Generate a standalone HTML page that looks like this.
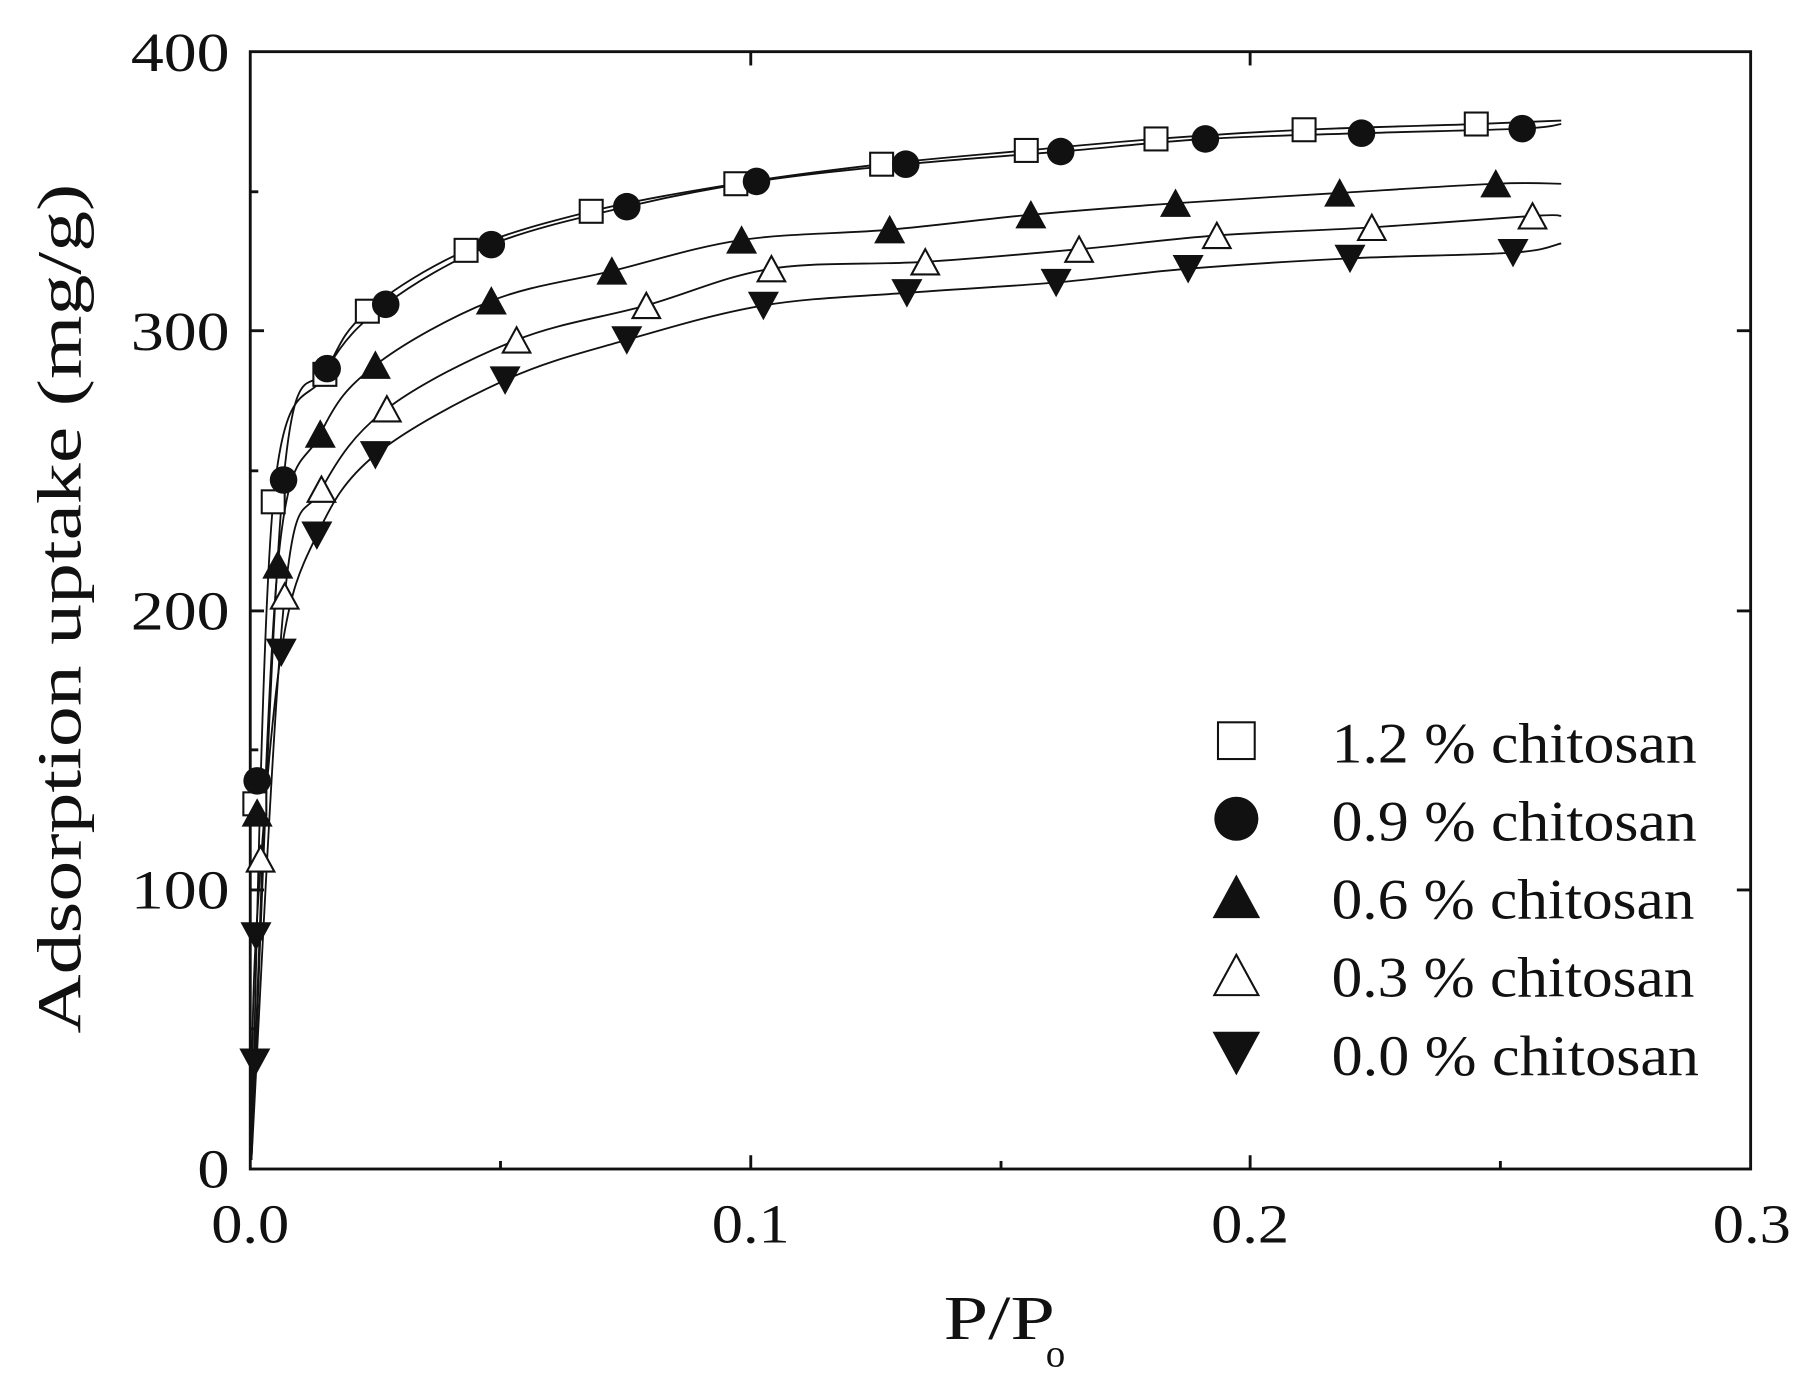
<!DOCTYPE html>
<html><head><meta charset="utf-8"><style>
html,body{margin:0;padding:0;background:#fff;overflow:hidden}
svg{display:block}
text{font-family:"Liberation Serif",serif;fill:#111}
</style></head><body>
<svg id="s" width="1800" height="1378" viewBox="0 0 1568 1200" preserveAspectRatio="none" xmlns="http://www.w3.org/2000/svg">
<rect x="218" y="45" width="1307" height="973" fill="none" stroke="#111" stroke-width="2.5"/>
<g stroke="#111" stroke-width="2.5">
<line x1="218" y1="775" x2="230" y2="775"/><line x1="218" y1="532" x2="230" y2="532"/><line x1="218" y1="288" x2="230" y2="288"/>
<line x1="218" y1="896" x2="225" y2="896"/><line x1="218" y1="653" x2="225" y2="653"/><line x1="218" y1="410" x2="225" y2="410"/><line x1="218" y1="167" x2="225" y2="167"/>
<line x1="1525" y1="775" x2="1513" y2="775"/><line x1="1525" y1="532" x2="1513" y2="532"/><line x1="1525" y1="288" x2="1513" y2="288"/>
<line x1="654" y1="1018" x2="654" y2="1006"/><line x1="1089" y1="1018" x2="1089" y2="1006"/>
<line x1="436" y1="1018" x2="436" y2="1011"/><line x1="872" y1="1018" x2="872" y2="1011"/><line x1="1307" y1="1018" x2="1307" y2="1011"/>
<line x1="654" y1="45" x2="654" y2="57"/><line x1="1089" y1="45" x2="1089" y2="57"/>
</g>
<g font-size="48" text-anchor="end">
<text x="200" y="1034" textLength="28" lengthAdjust="spacingAndGlyphs">0</text>
<text x="200" y="791" textLength="86" lengthAdjust="spacingAndGlyphs">100</text>
<text x="200" y="548" textLength="86" lengthAdjust="spacingAndGlyphs">200</text>
<text x="200" y="305" textLength="86" lengthAdjust="spacingAndGlyphs">300</text>
<text x="200" y="62" textLength="86" lengthAdjust="spacingAndGlyphs">400</text>
</g>
<g font-size="48">
<text x="184" y="1082" textLength="68" lengthAdjust="spacingAndGlyphs">0.0</text>
<text x="620" y="1082" textLength="68" lengthAdjust="spacingAndGlyphs">0.1</text>
<text x="1055" y="1082" textLength="68" lengthAdjust="spacingAndGlyphs">0.2</text>
<text x="1492" y="1082" textLength="68" lengthAdjust="spacingAndGlyphs">0.3</text>
</g>
<text x="822" y="1166" font-size="54" textLength="97" lengthAdjust="spacingAndGlyphs">P/P</text>
<text x="911" y="1190" font-size="34">o</text>
<text transform="translate(70,530) rotate(-90)" font-size="54" text-anchor="middle" textLength="740" lengthAdjust="spacingAndGlyphs">Adsorption uptake (mg/g)</text>
<g id="curves" fill="none" stroke="#111" stroke-width="1.6"></g>
<g id="marks"></g>
<g font-size="50">
<text x="1160" y="664" textLength="318" lengthAdjust="spacingAndGlyphs">1.2 % chitosan</text>
<text x="1160" y="732" textLength="318" lengthAdjust="spacingAndGlyphs">0.9 % chitosan</text>
<text x="1160" y="800" textLength="316" lengthAdjust="spacingAndGlyphs">0.6 % chitosan</text>
<text x="1160" y="868" textLength="316" lengthAdjust="spacingAndGlyphs">0.3 % chitosan</text>
<text x="1160" y="936" textLength="320" lengthAdjust="spacingAndGlyphs">0.0 % chitosan</text>
</g>
<g id="leg"></g>
</svg>
<script>
var NS="http://www.w3.org/2000/svg";
var S=[
{t:"sq",p:[[222,700],[238,437],[283,326],[320,271],[406,218],[515,184],[641,160],[768,143],[894,131],[1007,121],[1136,113],[1286,108]],end:[1360,105]},
{t:"ci",p:[[224,680],[247,418],[285,321],[336,265],[428,213],[546,180],[659,158],[789,143],[924,132],[1050,121],[1186,116],[1326,112]],end:[1360,108]},
{t:"tu",p:[[224,708],[242,492],[279,378],[327,318],[428,262],[533,236],[646,209],[775,200],[898,187],[1024,177],[1167,168],[1303,160]],end:[1360,160]},
{t:"to",p:[[227,748],[248,519],[280,426],[337,356],[450,296],[563,266],[672,234],[806,228],[940,217],[1060,205],[1195,198],[1335,188]],end:[1360,188]},
{t:"td",p:[[222,925],[223,815],[245,568],[276,466],[327,396],[440,331],[546,296],[665,266],[790,255],[920,246],[1035,234],[1176,225],[1318,220]],end:[1360,212]}
];
function mk(t,x,y,g,s){var e;s=s||1;
 if(t=="sq"){e=document.createElementNS(NS,"rect");e.setAttribute("x",x-10*s);e.setAttribute("y",y-10*s);e.setAttribute("width",20*s);e.setAttribute("height",20*s);e.setAttribute("fill","#fff");e.setAttribute("stroke","#111");e.setAttribute("stroke-width",1.8);}
 else if(t=="ci"){e=document.createElementNS(NS,"circle");e.setAttribute("cx",x);e.setAttribute("cy",y);e.setAttribute("r",12*s);e.setAttribute("fill","#111");}
 else{var a=12*s,b=11*s;var pts=(t=="td")?[[x-a,y-b],[x+a,y-b],[x,y+b]]:[[x-a,y+b],[x+a,y+b],[x,y-b]];
  e=document.createElementNS(NS,"polygon");
  e.setAttribute("points",pts.map(function(q){return q.join(",")}).join(" "));
  e.setAttribute("fill",t=="to"?"#fff":"#111");e.setAttribute("stroke","#111");e.setAttribute("stroke-width",1.8);}
 g.appendChild(e);}
var C=document.getElementById("curves"),M=document.getElementById("marks"),L=document.getElementById("leg");
S.forEach(function(s,i){
 var P=[[219,1010]].concat(s.p.slice(1)).concat([s.end]);
 var d="M"+P[0][0]+","+P[0][1];
 for(var k=0;k<P.length-1;k++){var p0=P[k-1]||P[k],p1=P[k],p2=P[k+1],p3=P[k+2]||p2;
  var c1=[p1[0]+(p2[0]-p0[0])/6,p1[1]+(p2[1]-p0[1])/6],c2=[p2[0]-(p3[0]-p1[0])/6,p2[1]-(p3[1]-p1[1])/6];
  d+=" C"+c1+" "+c2+" "+p2;}
 var pa=document.createElementNS(NS,"path");pa.setAttribute("d",d);C.appendChild(pa);
 s.p.forEach(function(q){mk(s.t,q[0],q[1],M)});
 mk(s.t,1077,645+68*i,L,1.6);
});
</script>
</body></html>
